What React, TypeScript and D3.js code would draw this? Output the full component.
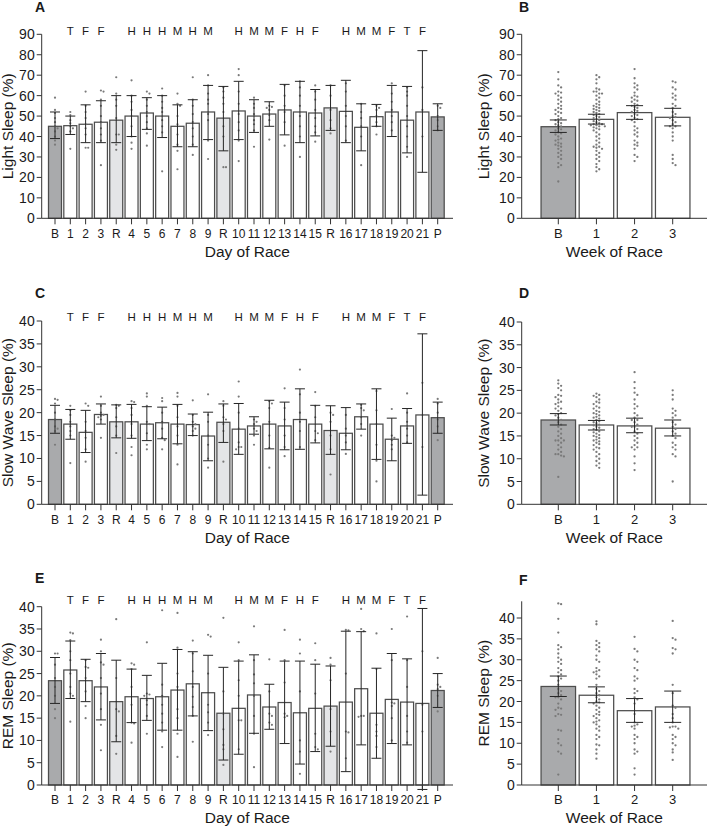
import React from "react";
import * as d3 from "d3";

// ---------- categories ----------
const dayLabels = ["B","1","2","3","R","4","5","6","7","8","9","R","10","11","12","13","14","15","R","16","17","18","19","20","21","P"];
const raceLetters = ["","T","F","F","","H","H","H","M","H","M","","H","M","M","F","H","F","","H","M","M","F","T","F",""];
const weekLabels = ["B","1","2","3"];

// ---------- Light sleep (A) ----------
const lightMean = [45, 45.3, 46, 47, 48, 50, 51.5, 50, 45, 46.5, 52, 49, 52.5, 50, 51, 53, 52, 51.5, 54, 52.3, 44.5, 49.7, 52, 48, 52, 49.6];
const lightLo = [39, 41, 37, 37, 37, 40, 43.5, 39.5, 35, 35, 38.5, 33, 38.5, 42, 45, 40.8, 37, 40.3, 43, 37, 33, 45, 40, 32, 22.5, 43];
const lightHi = [52, 50, 55.5, 57.5, 60, 60, 59, 60, 55.5, 58, 65, 64.5, 67, 58, 57, 65.5, 67, 63, 65, 67.5, 56, 55.7, 65, 64.5, 82, 56];
const lightDots = [
  [59, 53, 51.5, 49, 47, 45, 44, 42.5, 40, 38, 36],
  [52, 50.5, 48, 46.5, 45, 44, 42.5, 34],
  [62, 55, 52, 49, 46, 44, 41, 34.5, 34.5],
  [62.5, 62, 58, 55, 50, 47, 44, 41, 38, 26],
  [69, 61, 58, 55, 49, 41, 41, 36, 33.5],
  [67.5, 60, 57, 53, 50, 45, 40, 37, 34],
  [62, 61, 58, 55, 52, 50, 47, 44, 41.5, 35.5],
  [63.5, 60, 57, 54, 52, 48, 45, 42, 23],
  [61, 56, 55, 50, 46, 41, 36, 33, 24],
  [69, 58, 55, 51, 47, 44, 40, 36, 31],
  [70, 65, 61, 58, 56, 51, 48, 38, 29],
  [64, 62, 59, 56, 52, 45, 40, 25, 25],
  [73, 70, 62, 56, 51, 47, 43, 38, 28],
  [59, 56, 54, 51, 48, 46, 43, 35],
  [55, 54.5, 54, 53, 50.5, 48, 38.5],
  [65, 60, 55, 52, 47, 35.5],
  [67, 64, 60, 55, 50, 45, 40, 30],
  [65, 62, 58, 53, 49, 45, 42, 37.5],
  [65, 60, 53, 48, 44, 41.5],
  [66, 62, 55, 50, 45, 38],
  [56, 52, 49, 45, 40, 26],
  [55, 54, 53, 50, 47, 45, 41],
  [66, 61, 57, 53, 50, 47, 43],
  [64, 62, 60, 55, 50, 45, 40, 35, 30],
  [64, 53, 40],
  [55, 54, 50, 48, 45, 43],
];

// ---------- Slow wave sleep (C) ----------
const swsMean = [18.5, 17.5, 15.7, 19.6, 18, 18, 17.5, 17.8, 17.5, 17.4, 14.9, 17.9, 16.4, 17.1, 17.5, 17.1, 18.5, 17.5, 16.1, 15.5, 19.1, 17.5, 14.2, 17.1, 19.5, 18.9];
const swsLo = [15.5, 14.2, 11.3, 17.5, 14.5, 14.4, 13.9, 14.3, 13.2, 15, 9.5, 13.5, 10.9, 15.3, 12.1, 11.9, 12, 13.4, 10.9, 11.9, 16.4, 9.8, 9.5, 13.3, 2, 15.5];
const swsHi = [21.6, 20.7, 20.5, 21.9, 21.7, 21.8, 21.3, 21.2, 21.8, 19.7, 20.1, 21.9, 22, 19.1, 22.7, 22.3, 25.2, 21.6, 21.5, 21.1, 21.9, 25.2, 18.8, 20.9, 37.2, 22.3];
const swsDots = [
  [23, 22.8, 22, 20, 18.5, 17, 16.5, 16, 13],
  [21.5, 20.5, 19.5, 18, 17, 16, 15, 9],
  [22, 21.5, 18, 16, 14.5, 12, 9.3],
  [23.5, 21.5, 20, 19.5, 19.3, 19, 18.5, 14.5],
  [21.7, 21.5, 21, 19, 17, 15, 11.2],
  [22.5, 22.3, 21, 19.5, 17.5, 15, 12.5, 10.7],
  [24.2, 23.5, 21.5, 18, 17.5, 15.5, 13, 12],
  [23.2, 22.5, 20, 18, 16.5, 14.5, 14, 12],
  [24.3, 23.5, 21.5, 19, 17, 15, 13, 8.7],
  [22.7, 19.5, 18, 17.5, 17, 16.5, 16, 15],
  [24, 19.5, 18, 15, 13, 10, 8],
  [22.5, 21.5, 19, 18.5, 17.5, 16, 9.3],
  [26.8, 23.5, 20, 16.5, 13.5, 12.5, 12.5, 12],
  [18.5, 18, 17.5, 16.5, 16, 15, 13],
  [22.5, 22, 21, 18, 15, 12.3, 8],
  [25.3, 21, 18.5, 15, 12.5, 10.5],
  [29.4, 24, 20, 18, 16, 12.5],
  [24.5, 21.5, 19, 16, 15.5, 14],
  [20, 19.5, 18, 15, 12, 6.5],
  [19.5, 16.5, 15, 13.5, 11],
  [21.7, 21, 20.5, 19, 17.5, 15],
  [24.7, 20.5, 17.5, 13, 9.5, 5],
  [20.8, 15, 14.5, 14, 13, 12],
  [24.2, 20, 18, 16.5, 15, 13.5],
  [26.5, 19.5, 12.5],
  [23, 22, 20, 18.5, 17, 14],
];

// ---------- REM sleep (E) ----------
const remMean = [23.4, 25.8, 23.4, 22, 18.7, 19.8, 19.4, 19.8, 21.3, 22.7, 20.7, 16.1, 17.2, 20.2, 17.5, 18.5, 16.2, 17.2, 17.7, 18.6, 21.6, 16.1, 19.2, 18.6, 18.3, 21.2];
const remLo = [18.3, 19.4, 18.7, 14.6, 9.7, 14, 14.5, 12.3, 12.3, 15.5, 12.2, 5.6, 6.9, 11.6, 12.5, 9.3, 4.7, 7.5, 8.7, 3, 9, 6, 9.3, 9, -1, 17.4];
const remHi = [28.6, 32.3, 28.2, 29.5, 28, 26, 24.6, 27.3, 30.4, 29.9, 29.1, 26.4, 27.8, 29.2, 22.6, 27.8, 27.8, 27.1, 26.7, 34.5, 34.4, 26.2, 29.5, 28.3, 39.6, 25];
const remDots = [
  [29.5, 29.5, 27, 24, 22, 20, 17, 15],
  [34.2, 34, 32.5, 30, 28, 25, 22, 20.5, 20, 14.2],
  [28, 26.5, 26.3, 24, 21, 17.7, 15],
  [32.6, 30, 27.5, 27, 24, 20.5, 17, 13.5, 7.8],
  [37.2, 24, 17, 16.5, 11, 7],
  [27.3, 27, 26, 22, 18, 14, 13.8, 9.5],
  [32, 20.5, 20.3, 20, 19, 18, 15.5, 11.5],
  [39.2, 22.5, 20, 18, 16, 14, 12, 8.5],
  [38.6, 30.8, 25, 22, 17, 15, 11.5, 6.3],
  [32.4, 29.5, 25.5, 22, 19.8, 17.5, 15.5, 9.7],
  [33.7, 33.3, 25, 18, 16.3, 14, 11.2],
  [37.5, 21, 16, 12.5, 9, 8, 4.5],
  [32, 28, 23.5, 20, 14.5, 14.5, 8, 0],
  [35.6, 28, 24.8, 22.8, 20, 15.5, 11.5, 4],
  [28.2, 21, 16, 15.5, 14, 13.5],
  [34.8, 28, 23, 16, 15.5, 15.2],
  [32.6, 29.5, 21, 10, 7.5, 2.5],
  [31.8, 28, 20.5, 11.5, 8.5, 8],
  [28.5, 27, 23.5, 17, 12, 7.5],
  [34.8, 34.7, 25, 12, 11.8, 6],
  [39.5, 35, 34.5, 15.5, 15.5, 15.3],
  [34, 26, 13.5, 12, 11, 8.5],
  [35, 28, 18.5, 18.3, 17.7, 15, 10],
  [37.8, 28, 22, 15.5, 12, 9.5],
  [30, 18, 12],
  [28.5, 22.5, 22, 21.5, 20, 16.5],
];

// ---------- Weekly (B, D, F) ----------
const lightWeekMean = [44.8, 48.4, 51.7, 49.4];
const lightWeekLo = [42, 46.1, 48.4, 45.2];
const lightWeekHi = [48.1, 50.9, 55.1, 53.8];
const lightWeekDots = [
  [71.5, 68, 65, 64, 62, 61.5, 61, 60, 59, 58, 57, 56, 55, 54, 53.5, 53, 52, 51.5, 51, 50, 49, 48.5, 48, 47, 46.5, 46, 45.5, 45, 44, 43.5, 43, 42, 41.5, 41, 40, 39, 38.5, 38, 37, 36.5, 36, 35.5, 35, 34, 33, 32, 31, 30, 29, 27, 26, 25, 18],
  [70, 69, 68, 66, 63.5, 63, 62, 62, 61, 61, 60, 59, 58, 57, 56, 55.5, 55, 54.5, 54, 53.5, 53, 52.5, 52, 51.5, 51, 50.5, 50, 49.5, 49, 48.5, 48, 47.5, 47, 46.5, 46, 46, 45.5, 45.5, 45, 45, 44.5, 44, 43.5, 43, 42, 41, 40, 39, 38, 37, 36, 35, 35, 34.5, 34, 33, 32, 31, 30, 29, 28, 26.5, 25, 24, 23],
  [73, 68.5, 66, 65, 64, 63, 61.5, 60, 59.5, 59, 58, 57.5, 57, 56, 55.5, 55, 54.5, 54, 53, 52.5, 52, 51, 50.5, 50, 49, 48.5, 48, 47, 45, 44, 43, 42, 41, 40, 38, 37, 36, 35.5, 34, 31, 30, 28],
  [67, 66.5, 64, 63, 61, 60, 59, 58, 56, 55, 54, 52, 51, 50, 49.5, 49, 48, 47, 46, 45, 45, 44, 42, 40, 38, 31, 29, 27, 26],
];
const swsWeekMean = [18.5, 17.4, 17.2, 16.7];
const swsWeekLo = [17.4, 16.3, 15.7, 15];
const swsWeekHi = [19.9, 18.4, 18.9, 18.5];
const swsWeekDots = [
  [27.2, 26.5, 26, 25.5, 25, 24, 23.8, 23.5, 23, 22.5, 22.3, 22, 21.5, 21, 21, 20.5, 20, 19.8, 19.5, 19, 18.5, 18, 17.5, 17, 16.5, 16, 15.5, 15, 14.5, 14, 14, 14, 13.5, 13, 12.5, 12, 11.5, 11, 11, 10.7, 10.5, 6],
  [24.3, 24, 23.8, 23.5, 23, 22.5, 22.3, 22, 21.5, 21.2, 21, 20.5, 20.3, 20, 19.8, 19.5, 19.2, 19, 18.8, 18.5, 18.2, 18, 17.8, 17.5, 17.3, 17, 16.8, 16.5, 16.3, 16, 15.8, 15.5, 15.2, 15, 14.8, 14.5, 14.2, 14, 13.8, 13.5, 13.2, 13, 12.5, 12.3, 12, 11.5, 11, 10.5, 10, 9.5, 9, 8.5, 8],
  [29, 26.8, 25.5, 24.5, 24, 23, 22, 21.5, 21, 20, 19.5, 19, 18.5, 18.5, 18, 17.5, 17, 17, 16.5, 16, 15.5, 15, 14.5, 14, 13.5, 13, 12.5, 12.5, 12, 10.5, 9, 7.5],
  [25, 24, 23, 21, 20.5, 20, 19.5, 19, 18, 17.5, 17, 16.5, 16, 15.5, 15, 14.5, 13.5, 13, 12.5, 12, 11, 10.5, 5],
];
const remWeekMean = [23.6, 21.5, 17.8, 18.7];
const remWeekLo = [21.2, 19.7, 15, 15];
const remWeekHi = [26.1, 23.5, 20.7, 22.5];
const remWeekDots = [
  [43.5, 43.3, 39.8, 36.5, 33.5, 33, 32.5, 31.5, 30.5, 30, 29.5, 29, 28, 27.5, 27, 26.5, 26, 25.5, 25, 24, 23, 22.5, 22, 21.5, 21, 21, 20.5, 19.5, 18.5, 18.3, 18, 17, 16.8, 16.5, 13.2, 13, 11, 10, 9.5, 8, 7.5, 2.5],
  [39.2, 38.5, 34.5, 34, 33.5, 33, 32.5, 32, 31, 30, 29.5, 28, 27.5, 27.2, 27, 26.5, 26, 25.5, 24, 23, 22.5, 22, 21.5, 21, 20.5, 20, 19.8, 19.5, 19, 18.5, 18, 17.5, 17, 16.8, 16.5, 16, 15.5, 15.2, 15, 14.5, 14, 13.5, 13, 12, 11.5, 11, 9.7, 9.5, 8.5, 7.5, 6.3],
  [35.5, 32.6, 32, 30, 29.5, 28, 27.5, 26, 25.5, 25, 23, 22.5, 22, 21, 20.5, 19.5, 17, 15, 14.5, 14.2, 14, 13.5, 12, 11.5, 11, 10, 8.5, 8, 7.5, 4, 2.5],
  [39.3, 35.2, 34.8, 32.8, 32.5, 31.5, 24, 22, 19, 18.5, 17, 16, 15, 14, 14, 13.8, 13.5, 12, 11.5, 11, 10, 9.5, 8.5, 7.8, 6],
];

// ---------- styling ----------
const FONT = "'Liberation Sans', Arial, Helvetica, sans-serif";
const TEXT = "#1a1a1a";
const AXIS = "#333";
const DARK_FILL = "#a9aaac";
const LIGHT_FILL = "#e4e5e7";
const BAR_STROKE = "#4d4d4d";
const DOT = "#7a7a7a";

function fillFor(label: string) {
  if (label === "B" || label === "P") return DARK_FILL;
  if (label === "R") return LIGHT_FILL;
  return "#ffffff";
}

function swarm(values: number[], y: (v: number) => number, cx: number, d: number) {
  const sorted = [...values].sort((a, b) => b - a);
  const placed: [number, number][] = [];
  for (const v of sorted) {
    const py = y(v);
    let px = cx;
    for (let i = 0; i < 60; i++) {
      const off = i === 0 ? 0 : i % 2 === 1 ? Math.ceil(i / 2) : -Math.ceil(i / 2);
      px = cx + off * d;
      const hit = placed.some((p) => (p[0] - px) ** 2 + (p[1] - py) ** 2 < d * d * 0.95);
      if (!hit) break;
    }
    placed.push([px, py]);
  }
  return placed;
}

type PanelProps = {
  labels: string[];
  mean: number[];
  lo: number[];
  hi: number[];
  dots: number[][];
  letters?: string[];
  fills: string[];
  xFirst: number;
  xLast: number;
  axisX0: number;
  axisX1: number;
  barW: number;
  capHalf: number;
  y0: number;
  yMaxPix: number;
  yMaxVal: number;
  axisTopVal: number;
  tickStep: number;
  tickMax: number;
  panel: string;
  panelX: number;
  panelY: number;
  lettersY?: number;
  xLabelSize: number;
  yTitle: string;
  yTitleX: number;
  xTitle: string;
  dotD: number;
  dotR: number;
};

function Panel(p: PanelProps) {
  const ids = p.labels.map((_, i) => String(i));
  const x = d3.scalePoint<string>().domain(ids).range([p.xFirst, p.xLast]);
  const y = d3.scaleLinear().domain([0, p.yMaxVal]).range([p.y0, p.yMaxPix]);
  const ticks = d3.range(0, p.tickMax + 0.001, p.tickStep);
  const yTop = y(p.axisTopVal);
  const yMid = (p.y0 + yTop) / 2;
  const xLabY = p.y0 + 19.2;
  const xTitleY = p.y0 + 38.4;
  return (
    <g fontFamily={FONT}>
      <text x={p.panelX} y={p.panelY} fontSize={14} fontWeight="bold" fill={TEXT}>{p.panel}</text>
      {ids.map((id, i) => (
        <rect key={"b" + i} x={(x(id) as number) - p.barW / 2} y={y(p.mean[i])} width={p.barW}
          height={p.y0 - y(p.mean[i])} fill={p.fills[i]} stroke={BAR_STROKE} strokeWidth={1.25} />
      ))}
      {ids.map((id, i) =>
        swarm(p.dots[i], y, x(id) as number, p.dotD).map((pt, j) => (
          <circle key={"d" + i + "_" + j} cx={pt[0]} cy={pt[1]} r={p.dotR} fill={DOT} />
        ))
      )}
      {ids.map((id, i) => {
        const cx = x(id) as number;
        return (
          <g key={"e" + i} stroke="#262626" strokeWidth={1}>
            <line x1={cx} x2={cx} y1={y(p.lo[i])} y2={y(p.hi[i])} />
            <line x1={cx - p.capHalf} x2={cx + p.capHalf} y1={y(p.hi[i])} y2={y(p.hi[i])} />
            <line x1={cx - p.capHalf} x2={cx + p.capHalf} y1={y(p.lo[i])} y2={y(p.lo[i])} />
          </g>
        );
      })}
      <line x1={p.axisX0} x2={p.axisX0} y1={p.y0} y2={yTop} stroke={AXIS} strokeWidth={1} />
      {ticks.map((t) => (
        <g key={"t" + t}>
          <line x1={p.axisX0 - 5} x2={p.axisX0} y1={y(t)} y2={y(t)} stroke={AXIS} strokeWidth={1} />
          <text x={p.axisX0 - 7} y={y(t) + 5} fontSize={14} textAnchor="end" fill={TEXT}>{t}</text>
        </g>
      ))}
      <line x1={p.axisX0} x2={p.axisX1} y1={p.y0} y2={p.y0} stroke={AXIS} strokeWidth={1} />
      {ids.map((id, i) => (
        <g key={"x" + i}>
          <line x1={x(id) as number} x2={x(id) as number} y1={p.y0} y2={p.y0 + 6} stroke={AXIS} strokeWidth={1} />
          <text x={x(id) as number} y={xLabY} fontSize={p.xLabelSize} textAnchor="middle" fill={TEXT}>{p.labels[i]}</text>
        </g>
      ))}
      {p.letters && p.letters.map((l, i) => l ? (
        <text key={"l" + i} x={x(ids[i]) as number} y={p.lettersY} fontSize={11.5} textAnchor="middle" fill={TEXT}>{l}</text>
      ) : null)}
      <text x={(p.axisX0 + p.axisX1) / 2} y={xTitleY} fontSize={15.5} textAnchor="middle" fill={TEXT}>{p.xTitle}</text>
      <text transform={`translate(${p.yTitleX},${yMid}) rotate(-90)`} fontSize={15.5} textAnchor="middle" fill={TEXT}>{p.yTitle}</text>
    </g>
  );
}

const DAY = { xFirst: 55, xLast: 437.7, axisX0: 41.7, axisX1: 453, barW: 13, capHalf: 5, xLabelSize: 12, yTitleX: 13, dotD: 2.6, dotR: 1.1, panelX: 35 };
const WEEK = { xFirst: 558.3, xLast: 672.7, axisX0: 521.7, axisX1: 707, barW: 34.5, capHalf: 8.5, xLabelSize: 13, yTitleX: 488.5, dotD: 2.8, dotR: 1.15, panelX: 519 };

export default function App() {
  const dayFills = dayLabels.map(fillFor);
  const weekFills = weekLabels.map((l) => (l === "B" ? DARK_FILL : "#ffffff"));
  return (
    <svg width={708} height={827} viewBox="0 0 708 827"
      style={{ position: "absolute", left: 0, top: 0, display: "block", background: "#fff" }}>
      <rect width={708} height={827} fill="#fff" />
      <Panel {...DAY} labels={dayLabels} mean={lightMean} lo={lightLo} hi={lightHi} dots={lightDots}
        letters={raceLetters} lettersY={34.5} fills={dayFills}
        y0={218.3} yMaxPix={34.3} yMaxVal={90} axisTopVal={90} tickStep={10} tickMax={90}
        panel="A" panelY={12} yTitle="Light Sleep (%)" xTitle="Day of Race" />
      <Panel {...WEEK} labels={weekLabels} mean={lightWeekMean} lo={lightWeekLo} hi={lightWeekHi} dots={lightWeekDots}
        fills={weekFills}
        y0={218.3} yMaxPix={34.3} yMaxVal={90} axisTopVal={90} tickStep={10} tickMax={90}
        panel="B" panelY={12} yTitle="Light Sleep (%)" xTitle="Week of Race" />
      <Panel {...DAY} labels={dayLabels} mean={swsMean} lo={swsLo} hi={swsHi} dots={swsDots}
        letters={raceLetters} lettersY={320.5} fills={dayFills}
        y0={504.3} yMaxPix={321} yMaxVal={40} axisTopVal={40} tickStep={5} tickMax={40}
        panel="C" panelY={298} yTitle="Slow Wave Sleep (%)" xTitle="Day of Race" />
      <Panel {...WEEK} labels={weekLabels} mean={swsWeekMean} lo={swsWeekLo} hi={swsWeekHi} dots={swsWeekDots}
        fills={weekFills}
        y0={504.3} yMaxPix={322} yMaxVal={40} axisTopVal={40} tickStep={5} tickMax={40}
        panel="D" panelY={298} yTitle="Slow Wave Sleep (%)" xTitle="Week of Race" />
      <Panel {...DAY} labels={dayLabels} mean={remMean} lo={remLo} hi={remHi} dots={remDots}
        letters={raceLetters} lettersY={604.3} fills={dayFills}
        y0={785} yMaxPix={606.7} yMaxVal={40} axisTopVal={40} tickStep={5} tickMax={40}
        panel="E" panelY={583} yTitle="REM Sleep (%)" xTitle="Day of Race" />
      <Panel {...WEEK} labels={weekLabels} mean={remWeekMean} lo={remWeekLo} hi={remWeekHi} dots={remWeekDots}
        fills={weekFills}
        y0={785} yMaxPix={618} yMaxVal={40} axisTopVal={44} tickStep={5} tickMax={40}
        panel="F" panelY={585} yTitle="REM Sleep (%)" xTitle="Week of Race" />
    </svg>
  );
}
